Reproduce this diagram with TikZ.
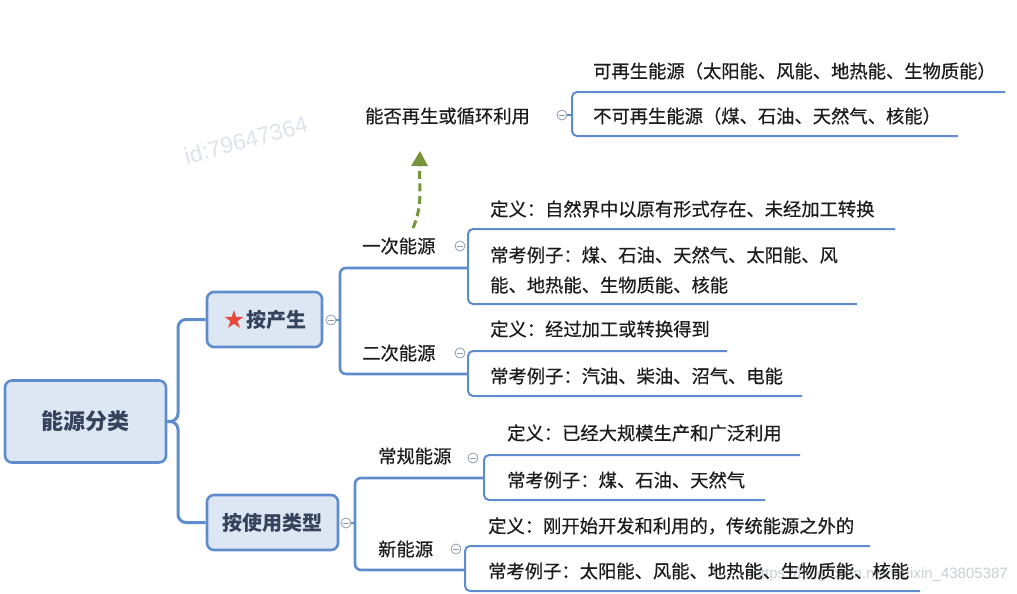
\documentclass[tikz,border=0pt]{standalone}
\usepackage{fontspec}
\usetikzlibrary{arrows.meta}
\newfontfamily\cjk{Noto Sans CJK SC}[FakeBold=0.5]
\newfontfamily\cjkb{Noto Sans CJK SC}
\newfontfamily\dejavu{DejaVu Sans}
\newfontfamily\wmfont{Liberation Sans}
\definecolor{lineblue}{RGB}{95,140,205}
\definecolor{boxfill}{RGB}{221,231,244}
\definecolor{roottext}{RGB}{52,66,92}
\definecolor{txtcol}{RGB}{28,28,28}
\definecolor{arrgreen}{RGB}{119,147,60}
\definecolor{starred}{RGB}{232,72,60}
\definecolor{cgray}{RGB}{140,155,175}
\definecolor{wmgray}{RGB}{222,227,236}
\tikzset{
  boxnode/.style={draw=lineblue, fill=boxfill, line width=2.6pt, rounded corners=7pt, inner sep=0pt, text=roottext},
  mainline/.style={draw=lineblue, line width=3pt, rounded corners=8pt},
  lvline/.style={draw=lineblue, line width=2.6pt, rounded corners=6pt},
  dline/.style={draw=lineblue, line width=2pt, rounded corners=5pt},
  txt/.style={anchor=west, inner sep=0pt, text=txtcol, font=\cjk\fontsize{18.3}{30}\selectfont, align=left},
  collapse/.style={circle, draw=cgray, fill=white, line width=0.8pt, minimum size=10pt, inner sep=0pt,
    path picture={\draw[cgray, line width=0.8pt] ([xshift=-2.6pt]path picture bounding box.center) -- ([xshift=2.6pt]path picture bounding box.center);}},
  greenarr/.style={draw=arrgreen, line width=3pt, dash pattern=on 8pt off 4.5pt, -{Triangle[length=15pt,width=16pt]}}
}
\begin{document}
\begin{tikzpicture}[x=1pt,y=-1pt]
\useasboundingbox (0,0) rectangle (1017,594);
\fill[white] (0,0) rectangle (1017,594);

% watermarks
\node[text=wmgray, font=\wmfont\fontsize{23}{25}\selectfont, rotate=15, inner sep=0pt] (wm1) at (246,140) {id:79647364};
\node[text=wmgray!80!gray, font=\wmfont\fontsize{15}{18}\selectfont, anchor=east, inner sep=0pt] (wm2) at (1008,575) {https://blog.csdn.net/weixin\_43805387};

% root and level 1
\node[boxnode, minimum width=161pt, minimum height=82pt, font=\cjkb\bfseries\fontsize{22}{26}\selectfont] (root) at (85.5,421.5) {能源分类};
\node[boxnode, minimum width=115pt, minimum height=55pt, font=\cjkb\bfseries\fontsize{20}{24}\selectfont] (b1) at (264.5,319.5) {\raisebox{-1pt}{\dejavu\color{starred}\fontsize{25}{26}\selectfont ★}\hspace{1pt}按产生};
\node[boxnode, minimum width=131pt, minimum height=55pt, font=\cjkb\bfseries\fontsize{20}{24}\selectfont] (b2) at (272.5,522.5) {按使用类型};

\coordinate (tk) at (178,421.5);
\draw[mainline] (root.east) -- (tk) |- (b1.west);
\draw[mainline] (root.east) -- (tk) |- (b2.west);

% ---------- branch 按产生 ----------
\coordinate (a1e) at (468,268);
\coordinate (a1s) at (340,268);
\coordinate (a2s) at (340,374);
\coordinate (a2e) at (468,374);
\draw[lvline] (a1e) -- (a1s) -- (a2s) -- (a2e);
\node[collapse] (c1) at (331,320) {};
\draw[lvline] (c1.east) -- (c1.east -| a1s);

\node[txt] (n1) at (362,246) {一次能源};
\node[collapse] (c11) at (460,246) {};
\node[txt] (n2) at (362,353) {二次能源};
\node[collapse] (c12) at (460,353) {};

% 一次能源 details
\coordinate (d1a) at (895,229);
\coordinate (d1b) at (468,229);
\coordinate (d1c) at (468,304);
\coordinate (d1d) at (857,304);
\draw[dline] (d1a) -- (d1b) -- (d1c) -- (d1d);
\node[txt] (t11) at (490,209) {定义：自然界中以原有形式存在、未经加工转换};
\node[txt] (t12) at (490,270) {常考例子：煤、石油、天然气、太阳能、风\\能、地热能、生物质能、核能};

% 二次能源 details
\coordinate (d2a) at (727,351);
\coordinate (d2b) at (468,351);
\coordinate (d2c) at (468,396);
\coordinate (d2d) at (802,396);
\draw[dline] (d2a) -- (d2b) -- (d2c) -- (d2d);
\node[txt] (t21) at (490,329) {定义：经过加工或转换得到};
\node[txt] (t22) at (490,376) {常考例子：汽油、柴油、沼气、电能};

% ---------- 能否再生或循环利用 ----------
\node[txt] (q) at (365,116) {能否再生或循环利用};
\node[collapse] (cq) at (562,115) {};
\coordinate (q1a) at (1005,92);
\coordinate (q1b) at (572,92);
\coordinate (q2b) at (572,136);
\coordinate (q2a) at (958,136);
\draw[dline] (q1a) -- (q1b) -- (q2b) -- (q2a);
\draw[dline] (cq.east) -- (cq.east -| q1b);
\node[txt] (q1) at (593,71) {可再生能源（太阳能、风能、地热能、生物质能）};
\node[txt] (q2) at (593,116) {不可再生能源（煤、石油、天然气、核能）};

% green dashed arrow
\coordinate (ga) at (413,228);
\coordinate (gb) at (420,151);
\draw[greenarr] (ga) .. controls (423,205) and (419,190) .. (gb);

% ---------- branch 按使用类型 ----------
\coordinate (u1e) at (484,478);
\coordinate (u1s) at (355,478);
\coordinate (u2s) at (355,570);
\coordinate (u2e) at (465,570);
\draw[lvline] (u1e) -- (u1s) -- (u2s) -- (u2e);
\node[collapse] (c2) at (346,523) {};
\draw[lvline] (c2.east) -- (c2.east -| u1s);

\node[txt] (m1) at (378,456) {常规能源};
\node[collapse] (c21) at (473,458) {};
\node[txt] (m2) at (378,549) {新能源};
\node[collapse] (c22) at (456,549) {};

% 常规能源 details
\coordinate (e1a) at (800,455);
\coordinate (e1b) at (484,455);
\coordinate (e1c) at (484,500);
\coordinate (e1d) at (765,500);
\draw[dline] (e1a) -- (e1b) -- (e1c) -- (e1d);
\node[txt] (s11) at (507,433) {定义：已经大规模生产和广泛利用};
\node[txt] (s12) at (507,480) {常考例子：煤、石油、天然气};

% 新能源 details
\coordinate (e2a) at (870,546);
\coordinate (e2b) at (465,546);
\coordinate (e2c) at (465,591);
\coordinate (e2d) at (920,591);
\draw[dline] (e2a) -- (e2b) -- (e2c) -- (e2d);
\node[txt] (s21) at (488,526) {定义：刚开始开发和利用的，传统能源之外的};
\node[txt] (s22) at (488,571) {常考例子：太阳能、风能、地热能、生物质能、核能};
\end{tikzpicture}
\end{document}
